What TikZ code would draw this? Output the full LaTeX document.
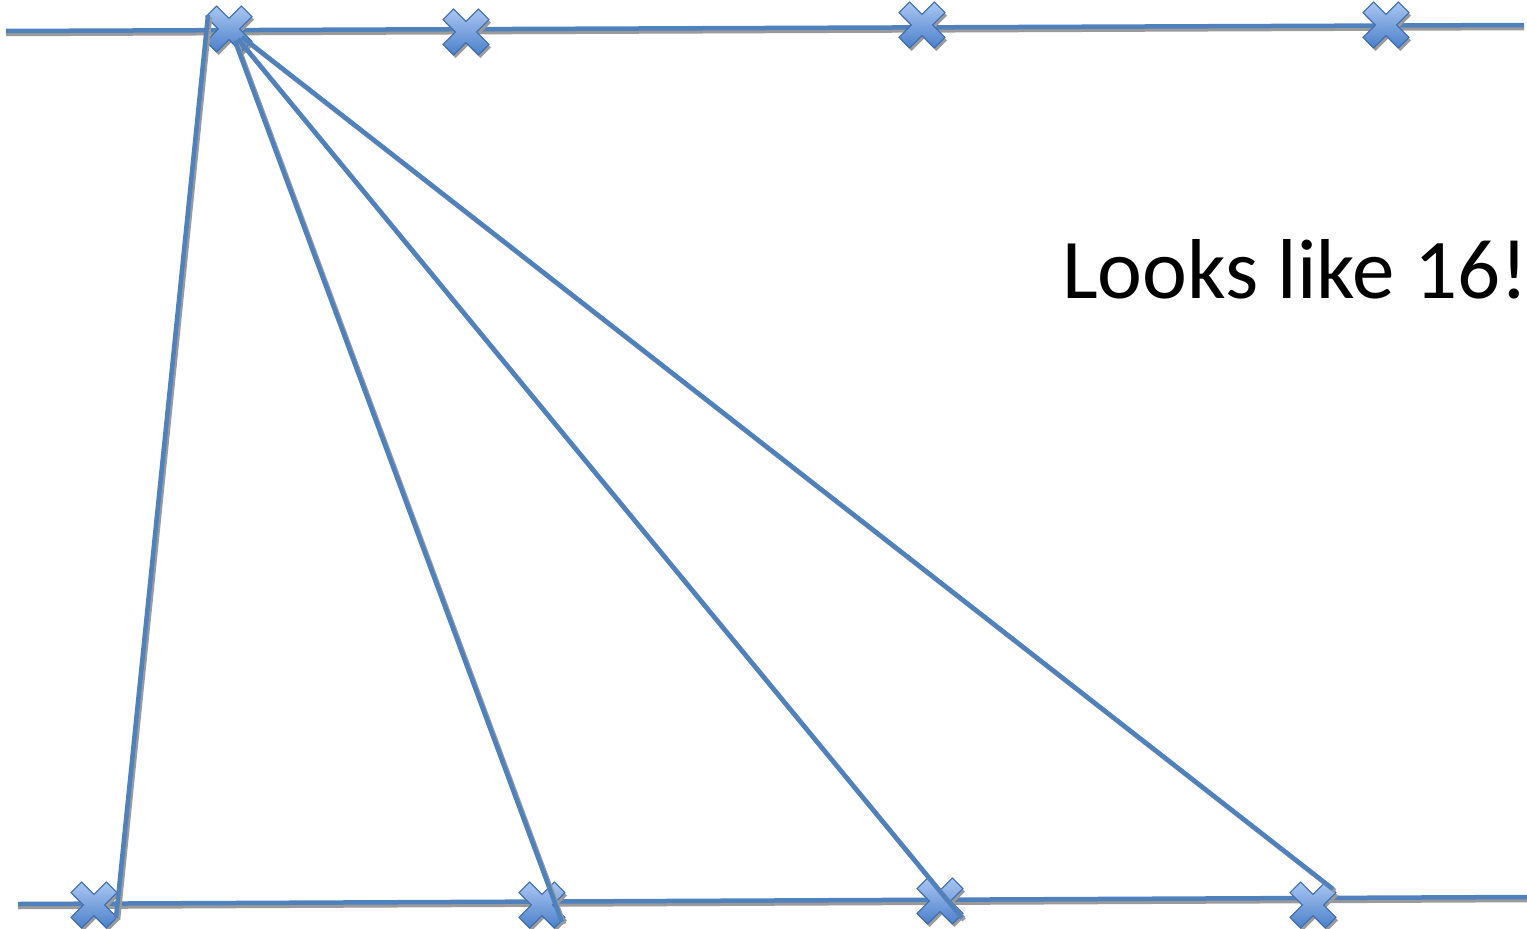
\documentclass[tikz,border=0pt]{standalone}
\usepackage{fontspec}
\setmainfont{Carlito}
\usetikzlibrary{calc}
\definecolor{lineblue}{HTML}{4F81BD}
\definecolor{edgeblue}{HTML}{3B6CB0}
\definecolor{xtop}{HTML}{A9C6F2}
\definecolor{xbot}{HTML}{4C80C9}
\definecolor{shadowgray}{HTML}{9A9A9A}
\tikzset{
  mk/.style={inner sep=0pt, minimum size=46pt},
  conn/.style={draw=lineblue, line width=4.5pt},
  connshadow/.style={draw=shadowgray, line width=4.5pt},
  xshape/.pic={
    \fill[shadowgray] (25,15.4) -- (14.4,26) -- (2,13.6) -- (-10.4,26) -- (-21,15.4) -- (-8.6,3) -- (-21,-9.4) -- (-10.4,-20) -- (2,-7.6) -- (14.4,-20) -- (25,-9.4) -- (12.6,3) -- cycle;
    \shade[top color=xtop, bottom color=xbot, draw=edgeblue, line width=1pt]
      (23,12.4) -- (12.4,23) -- (0,10.6) -- (-12.4,23) -- (-23,12.4) -- (-10.6,0) -- (-23,-12.4) -- (-12.4,-23) -- (0,-10.6) -- (12.4,-23) -- (23,-12.4) -- (10.6,0) -- cycle;
  }
}
\begin{document}
\begin{tikzpicture}[x=1pt,y=-1pt]
\useasboundingbox (0,0) rectangle (1527,929);
% rail end points
\coordinate (tl) at (6,31);
\coordinate (tr) at (1524,25);
\coordinate (bl) at (18,904);
\coordinate (br) at (1527,897);
% rails with shadow
\draw[connshadow] ($(tl)+(0,3)$) -- ($(tr)+(0,3)$);
\draw[conn] (tl) -- (tr);
\draw[connshadow] ($(bl)+(0,3)$) -- ($(br)+(0,3)$);
\draw[conn] (bl) -- (br);
% markers
\foreach \n/\x/\y in {t1/229/29, t2/466/32, t3/922/25, t4/1386/25, b1/94/905, b2/542/905, b3/940/901, b4/1313/905}{
  \path (\x,\y) node[mk] (\n) {} pic {xshape};
}
% connectors with shadow
\draw[connshadow] ($(t1)+(-19,-12)$) -- ($(b1)+(24,15)$);
\draw[conn] ($(t1)+(-21,-14)$) -- ($(b1)+(22,13)$);
\draw[connshadow] ($(t1)+(8,14)$) -- ($(b2)+(22,19)$);
\draw[conn] ($(t1)+(6,12)$) -- ($(b2)+(20,17)$);
\draw[connshadow] ($(t1)+(11,12)$) -- ($(b3)+(24,19)$);
\draw[conn] ($(t1)+(9,10)$) -- ($(b3)+(22,17)$);
\draw[connshadow] ($(t1)+(15,10)$) -- ($(b4)+(22,-14)$);
\draw[conn] ($(t1)+(13,8)$) -- ($(b4)+(20,-16)$);
% label
\node[anchor=base west, inner sep=0pt, font=\fontsize{85}{100}\selectfont] (lbl) at (1062,298) {Looks like 16!};
\end{tikzpicture}
\end{document}
